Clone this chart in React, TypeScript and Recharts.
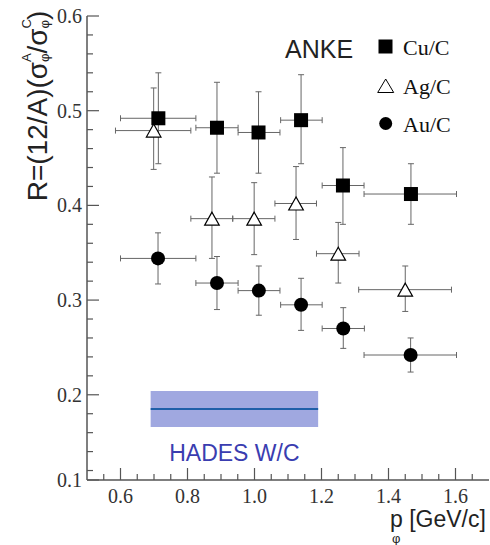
import React from "react";
import {
  ScatterChart,
  Scatter,
  XAxis,
  YAxis,
  ErrorBar,
  ReferenceArea,
  ReferenceLine,
  Legend,
} from "recharts";

// axis ticks
const xMajorTicks = [0.6, 0.8, 1.0, 1.2, 1.4, 1.6];
const xMinorTicks = [0.55, 0.65, 0.7, 0.75, 0.85, 0.9, 0.95, 1.05, 1.1, 1.15, 1.25, 1.3, 1.35, 1.45, 1.5, 1.55, 1.65];
const yMajorTicks = [0.11, 0.2, 0.3, 0.4, 0.5, 0.6];
const yMinorTicks = [
  0.12, 0.14, 0.16, 0.18, 0.22, 0.24, 0.26, 0.28, 0.32, 0.34, 0.36, 0.38,
  0.42, 0.44, 0.46, 0.48, 0.52, 0.54, 0.56, 0.58,
];

// Cu/C
const cuP = [0.713, 0.888, 1.012, 1.139, 1.264, 1.467];
const cuR = [0.492, 0.482, 0.477, 0.49, 0.421, 0.412];
const cuErrUp = [0.048, 0.048, 0.043, 0.048, 0.04, 0.032];
const cuErrDown = [0.048, 0.048, 0.043, 0.046, 0.041, 0.032];
const cuBinLo = [0.6, 0.825, 0.951, 1.078, 1.202, 1.327];
const cuBinHi = [0.825, 0.951, 1.076, 1.202, 1.327, 1.603];

// Ag/C
const agP = [0.699, 0.873, 0.999, 1.124, 1.25, 1.45];
const agR = [0.479, 0.386, 0.386, 0.402, 0.349, 0.311];
const agErrUp = [0.045, 0.044, 0.038, 0.039, 0.033, 0.025];
const agErrDown = [0.041, 0.042, 0.038, 0.038, 0.031, 0.023];
const agBinLo = [0.585, 0.81, 0.935, 1.061, 1.185, 1.311];
const agBinHi = [0.81, 0.935, 1.061, 1.185, 1.312, 1.588];

// Au/C
const auP = [0.712, 0.888, 1.013, 1.139, 1.265, 1.466];
const auR = [0.344, 0.318, 0.31, 0.295, 0.27, 0.242];
const auErrUp = [0.027, 0.028, 0.026, 0.028, 0.022, 0.018];
const auErrDown = [0.027, 0.028, 0.026, 0.027, 0.021, 0.018];
const auBinLo = [0.6, 0.825, 0.951, 1.078, 1.202, 1.327];
const auBinHi = [0.825, 0.951, 1.076, 1.202, 1.328, 1.603];

// HADES W/C band
const hadesP = [0.69, 1.19];
const hadesBand = [0.166, 0.204];
const hadesR = 0.185;

const AXIS = "#555";
const SERIF = "'Liberation Serif', 'Times New Roman', serif";
const SANS = "'Liberation Sans', Arial, sans-serif";

function toPoints(p: number[], r: number[], up: number[], down: number[], lo: number[], hi: number[]) {
  return p.map((x, i) => ({
    x,
    y: r[i],
    ey: [down[i], up[i]],
    ex: [x - lo[i], hi[i] - x],
  }));
}

const cuData = toPoints(cuP, cuR, cuErrUp, cuErrDown, cuBinLo, cuBinHi);
const agData = toPoints(agP, agR, agErrUp, agErrDown, agBinLo, agBinHi);
const auData = toPoints(auP, auR, auErrUp, auErrDown, auBinLo, auBinHi);

const Square = ({ cx, cy }: any) => <rect x={cx - 7} y={cy - 7} width={14} height={14} fill="#000" />;
const Triangle = ({ cx, cy }: any) => (
  <polygon
    points={`${cx},${cy - 6.5} ${cx - 7.3},${cy + 6.5} ${cx + 7.3},${cy + 6.5}`}
    fill="#fff"
    stroke="#000"
    strokeWidth={1.2}
  />
);
const Dot = ({ cx, cy }: any) => <circle cx={cx} cy={cy} r={7} fill="#000" />;

function makeTick(side: "bottom" | "top" | "left" | "right", majors: number[]) {
  return function Tick(props: any) {
    const { x, y, payload } = props;
    const v = payload.value;
    const major = majors.includes(v);
    const len = major ? 12 : 6;
    if (side === "bottom" || side === "top") {
      const dir = side === "bottom" ? -1 : 1;
      return (
        <g>
          <line x1={x} x2={x} y1={y} y2={y + dir * len} stroke={AXIS} strokeWidth={1.2} />
          {side === "bottom" && major && (
            <text x={x} y={y + 23} textAnchor="middle" fontFamily={SERIF} fontSize={20} fill="#333">
              {v.toFixed(1)}
            </text>
          )}
        </g>
      );
    }
    const dir = side === "left" ? 1 : -1;
    return (
      <g>
        <line x1={x} x2={x + dir * len} y1={y} y2={y} stroke={AXIS} strokeWidth={1.2} />
        {side === "left" && major && (
          <text x={x - 5} y={y + 7} textAnchor="end" fontFamily={SERIF} fontSize={20} fill="#333">
            {v.toFixed(1)}
          </text>
        )}
      </g>
    );
  };
}

const BottomTick = makeTick("bottom", xMajorTicks);
const TopTick = makeTick("top", xMajorTicks);
const LeftTick = makeTick("left", yMajorTicks);
const RightTick = makeTick("right", yMajorTicks);

const YTitle = () => (
  <text transform="translate(47,106) rotate(-90)" textAnchor="middle" fontFamily={SANS} fontSize={28} fill="#222">
    R=(12/A)(σ
    <tspan fontSize={13} dy={-16}>A</tspan>
    <tspan fontSize={13} dx={-8.7} dy={18}>φ</tspan>
    <tspan dy={-2}>/σ</tspan>
    <tspan fontSize={13} dy={-16}>C</tspan>
    <tspan fontSize={13} dx={-9.4} dy={18}>φ</tspan>
    <tspan dy={-2}>)</tspan>
  </text>
);

const XTitle = () => (
  <g fontFamily={SANS} fill="#222">
    <text x={390} y={527} fontSize={23}>p [GeV/c]</text>
    <text x={392} y={543} fontSize={13}>φ</text>
  </g>
);

const legendItems = [
  { name: "Cu/C", icon: (cy: number) => <rect x={98.5} y={cy - 7} width={14} height={14} fill="#000" /> },
  {
    name: "Ag/C",
    icon: (cy: number) => (
      <polygon points={`105.7,${cy - 7} 97.7,${cy + 6.5} 113.7,${cy + 6.5}`} fill="#fff" stroke="#000" strokeWidth={1} />
    ),
  },
  { name: "Au/C", icon: (cy: number) => <circle cx={105.7} cy={cy} r={6.5} fill="#000" /> },
];
const legendRows = [21.5, 61, 98.5];

const LegendBox = () => (
  <svg width={200} height={120}>
    <text x={5} y={33} fontFamily={SANS} fontSize={25} fill="#222">
      ANKE
    </text>
    {legendItems.map((it, i) => (
      <g key={it.name}>
        {it.icon(legendRows[i])}
        <text x={123} y={legendRows[i] + 8} fontFamily={SERIF} fontSize={22} fill="#111">
          {it.name}
        </text>
      </g>
    ))}
  </svg>
);

const errStyle = { stroke: "#666", strokeWidth: 1, width: 3 };

export default function App() {
  return (
    <div style={{ position: "absolute", left: 0, top: 0, background: "#fff" }}>
      <ScatterChart width={490} height={545} margin={{ top: 16, right: 1, bottom: 0, left: 0 }}>
        <XAxis
          dataKey="x"
          type="number"
          domain={[0.5, 1.7]}
          ticks={[...xMajorTicks, ...xMinorTicks]}
          interval={0}
          height={65}
          tickLine={false}
          tickSize={0}
          tickMargin={0}
          tick={<BottomTick />}
          axisLine={{ stroke: AXIS, strokeWidth: 1.5 }}
          allowDataOverflow
          label={{ content: XTitle }}
        />
        <XAxis
          xAxisId="top"
          orientation="top"
          type="number"
          domain={[0.5, 1.7]}
          ticks={[...xMajorTicks, ...xMinorTicks]}
          interval={0}
          height={0}
          tickLine={false}
          tickSize={0}
          tickMargin={0}
          tick={<TopTick />}
          axisLine={{ stroke: AXIS, strokeWidth: 1.5 }}
          allowDataOverflow
        />
        <YAxis
          dataKey="y"
          type="number"
          domain={[0.11, 0.6]}
          ticks={[...yMajorTicks, ...yMinorTicks]}
          interval={0}
          width={87}
          tickLine={false}
          tickSize={0}
          tickMargin={0}
          tick={<LeftTick />}
          axisLine={{ stroke: AXIS, strokeWidth: 1.5 }}
          allowDataOverflow
          label={{ content: YTitle }}
        />
        <YAxis
          yAxisId="right"
          orientation="right"
          type="number"
          domain={[0.11, 0.6]}
          ticks={[...yMajorTicks, ...yMinorTicks]}
          interval={0}
          width={0}
          tickLine={false}
          tickSize={0}
          tickMargin={0}
          tick={<RightTick />}
          axisLine={{ stroke: AXIS, strokeWidth: 1.5 }}
          allowDataOverflow
        />
        <ReferenceArea
          x1={hadesP[0]}
          x2={hadesP[1]}
          y1={hadesBand[0]}
          y2={hadesBand[1]}
          fill="#a0a8e0"
          fillOpacity={1}
          stroke="none"
          label={{
            value: "HADES W/C",
            position: "bottom",
            offset: 18,
            fill: "#3a3db0",
            fontSize: 23,
            fontFamily: SANS,
          }}
        />
        <ReferenceLine
          segment={[
            { x: hadesP[0], y: hadesR },
            { x: hadesP[1], y: hadesR },
          ]}
          stroke="#1f5fa8"
          strokeWidth={2}
        />
        <Legend
          layout="vertical"
          align="center"
          verticalAlign="middle"
          content={LegendBox}
          wrapperStyle={{ left: 280, top: 25, width: 200, height: 120 }}
        />
        <Scatter name="Cu/C" data={cuData} shape={Square} isAnimationActive={false}>
          <ErrorBar dataKey="ey" direction="y" {...errStyle} isAnimationActive={false} />
          <ErrorBar dataKey="ex" direction="x" {...errStyle} isAnimationActive={false} />
        </Scatter>
        <Scatter name="Ag/C" data={agData} shape={Triangle} isAnimationActive={false}>
          <ErrorBar dataKey="ey" direction="y" {...errStyle} isAnimationActive={false} />
          <ErrorBar dataKey="ex" direction="x" {...errStyle} isAnimationActive={false} />
        </Scatter>
        <Scatter name="Au/C" data={auData} shape={Dot} isAnimationActive={false}>
          <ErrorBar dataKey="ey" direction="y" {...errStyle} isAnimationActive={false} />
          <ErrorBar dataKey="ex" direction="x" {...errStyle} isAnimationActive={false} />
        </Scatter>
      </ScatterChart>
    </div>
  );
}
